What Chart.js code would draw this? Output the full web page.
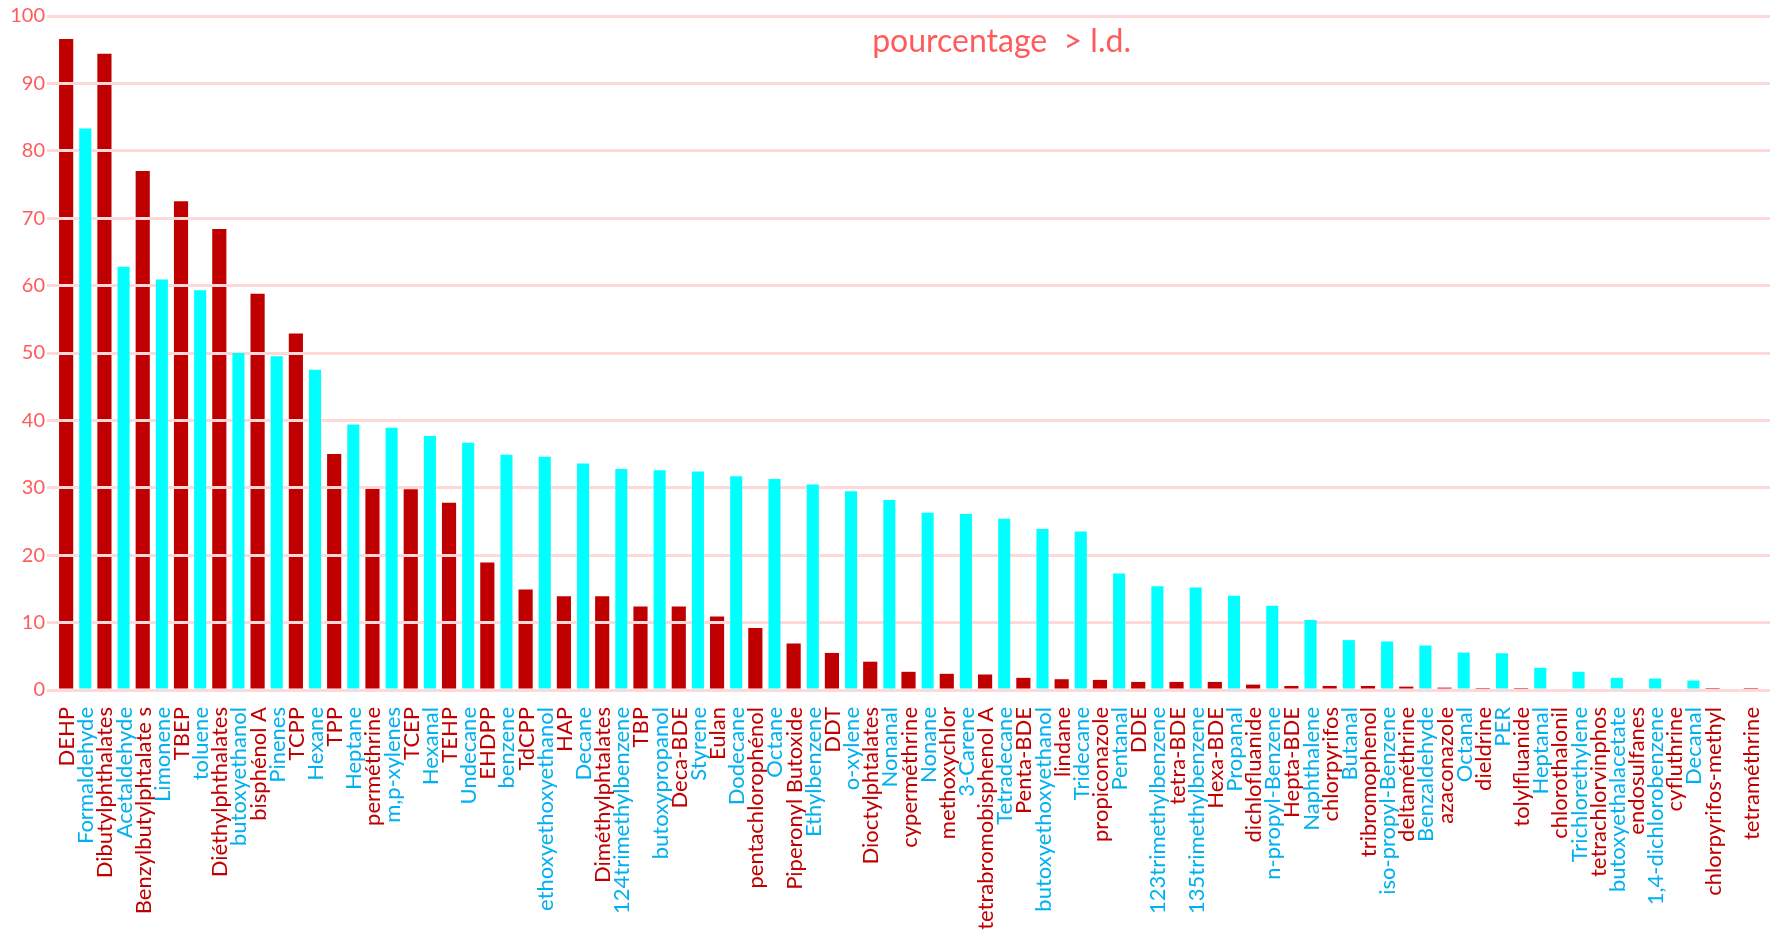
<!DOCTYPE html>
<html>
<head>
<meta charset="utf-8">
<script src="https://cdn.jsdelivr.net/npm/chart.js@4"></script>
<style>
  body { margin: 0; background: #fff; }
  canvas { display: block; }
</style>
</head>
<body>
<canvas id="chart" width="1777" height="934"></canvas>
<script>
// ==================== DONNÉES ====================

// SVOC (barres rouges), une par catégorie
const svocLabels = [
  "DEHP", "Dibutylphthalates", "Benzylbutylphtalate s", "TBEP", "Diéthylphthalates",
  "bisphénol A", "TCPP", "TPP", "perméthrine", "TCEP", "TEHP", "EHDPP", "TdCPP", "HAP",
  "Diméthylphtalates", "TBP", "Deca-BDE", "Eulan", "pentachlorophénol", "Piperonyl Butoxide",
  "DDT", "Dioctylphtalates", "cyperméthrine", "methoxychlor", "tetrabromobisphenol A",
  "Penta-BDE", "lindane", "propiconazole", "DDE", "tetra-BDE", "Hexa-BDE", "dichlofluanide",
  "Hepta-BDE", "chlorpyrifos", "tribromophenol", "deltaméthrine", "azaconazole", "dieldrine",
  "tolylfluanide", "chlorothalonil", "tetrachlorvinphos", "endosulfanes", "cyfluthrine",
  "chlorpyrifos-methyl", "tetraméthrine"
];
const svocValues = [
  96.6, 94.4, 77.0, 72.5, 68.4, 58.8, 52.9, 35.0, 30.1, 29.8, 27.8, 18.9, 14.9, 13.9,
  13.9, 12.4, 12.4, 10.9, 9.2, 6.9, 5.5, 4.2, 2.7, 2.4, 2.3, 1.8, 1.6, 1.5, 1.2, 1.2,
  1.2, 0.8, 0.6, 0.6, 0.6, 0.5, 0.35, 0.1, 0.1, 0, 0, 0, 0, 0.1, 0.15
];

// COV (barres cyan), décalées d'une demi-catégorie
const covLabels = [
  "Formaldehyde", "Acetaldehyde", "Limonene", "toluene", "butoxyethanol", "Pinenes",
  "Hexane", "Heptane", "m,p-xylenes", "Hexanal", "Undecane", "benzene",
  "ethoxyethoxyethanol", "Decane", "124trimethylbenzene", "butoxypropanol", "Styrene",
  "Dodecane", "Octane", "Ethylbenzene", "o-xylene", "Nonanal", "Nonane", "3-Carene",
  "Tetradecane", "butoxyethoxyethanol", "Tridecane", "Pentanal", "123trimethylbenzene",
  "135trimethylbenzene", "Propanal", "n-propyl-Benzene", "Naphthalene", "Butanal",
  "iso-propyl-Benzene", "Benzaldehyde", "Octanal", "PER", "Heptanal", "Trichlorethylene",
  "butoxyethalacetate", "1,4-dichlorobenzene", "Decanal"
];
const covValues = [
  83.3, 62.8, 60.9, 59.3, 50.0, 49.5, 47.5, 39.4, 38.9, 37.7, 36.7, 34.9, 34.6, 33.6,
  32.8, 32.6, 32.4, 31.7, 31.3, 30.5, 29.5, 28.2, 26.3, 26.1, 25.4, 23.9, 23.5, 17.3,
  15.4, 15.2, 14.0, 12.5, 10.4, 7.4, 7.2, 6.6, 5.55, 5.45, 3.3, 2.7, 1.8, 1.7, 1.4
];

const yTicks = [0, 10, 20, 30, 40, 50, 60, 70, 80, 90, 100];
const titre = "pourcentage  > l.d.";

// ==================== COULEURS ====================

const ROUGE = "#c00000";
const CYAN = "#00ffff";
const BLEU_TXT = "#00b0f0";
const SAUMON = "#ff5b5b";
const GRILLE = "#ffd9d9";

// axe décalé pour les COV : un slot vide avant, deux après
const covAxisLabels = ["", ...covLabels, "", ""];
const covAxisValues = [null, ...covValues, null, null];

// ==================== PLUGINS ====================

// grille redessinée entre les barres rouges et cyan (comme les deux graphiques superposés)
const grilleMilieu = {
  id: "grilleMilieu",
  beforeDatasetDraw(chart, args) {
    if (args.index === 0) chart.scales.y.drawGrid(chart.chartArea);
  },
};

const etiquettes = {
  id: "etiquettes",
  afterDraw(chart) {
    const ctx = chart.ctx;
    const area = chart.chartArea;
    const xs = chart.scales.x;
    const xc = chart.scales.x2;
    const y0 = area.bottom + 17;

    ctx.save();
    ctx.font = "22px Lato";
    ctx.textAlign = "right";
    ctx.textBaseline = "alphabetic";
    const put = (txt, x, color) => {
      ctx.save();
      ctx.translate(x, y0);
      ctx.rotate(-Math.PI / 2);
      ctx.fillStyle = color;
      ctx.fillText(txt, 0, 8);
      ctx.restore();
    };
    covLabels.forEach((t, i) => put(t, xc.getPixelForValue(i + 1), BLEU_TXT));
    svocLabels.forEach((t, i) => put(t, xs.getPixelForValue(i), ROUGE));

    // titre dans la zone du graphique
    ctx.font = "32px Lato";
    ctx.textAlign = "center";
    ctx.fillStyle = SAUMON;
    ctx.fillText(titre, area.left + (area.right - area.left) * 0.554, area.top + 36);
    ctx.restore();
  },
};

// ==================== GRAPHIQUE ====================

new Chart(document.getElementById("chart"), {
  type: "bar",
  data: {
    labels: svocLabels,
    datasets: [
      {
        label: "COV",
        data: covAxisValues,
        xAxisID: "x2",
        grouped: false,
        backgroundColor: CYAN,
        categoryPercentage: 1,
        barPercentage: 0.315,
      },
      {
        label: "SVOC",
        data: svocValues,
        xAxisID: "x",
        grouped: false,
        backgroundColor: ROUGE,
        categoryPercentage: 1,
        barPercentage: 0.37,
      },
    ],
  },
  plugins: [grilleMilieu, etiquettes],
  options: {
    responsive: false,
    animation: false,
    layout: { padding: { top: 16, bottom: 244, left: 0, right: 7 } },
    plugins: {
      legend: { display: false },
      tooltip: { enabled: false },
    },
    scales: {
      x: { display: false, offset: true },
      x2: { type: "category", labels: covAxisLabels, display: false, offset: false },
      y: {
        min: 0,
        max: 100,
        afterBuildTicks: (s) => { s.ticks = yTicks.map((v) => ({ value: v })); },
        afterFit: (s) => { s.width = 47; },
        border: { display: false },
        grid: { color: GRILLE, lineWidth: 3, drawTicks: false },
        ticks: { color: SAUMON, font: { family: "Lato", size: 20 }, padding: 2 },
      },
    },
  },
});
</script>
</body>
</html>
